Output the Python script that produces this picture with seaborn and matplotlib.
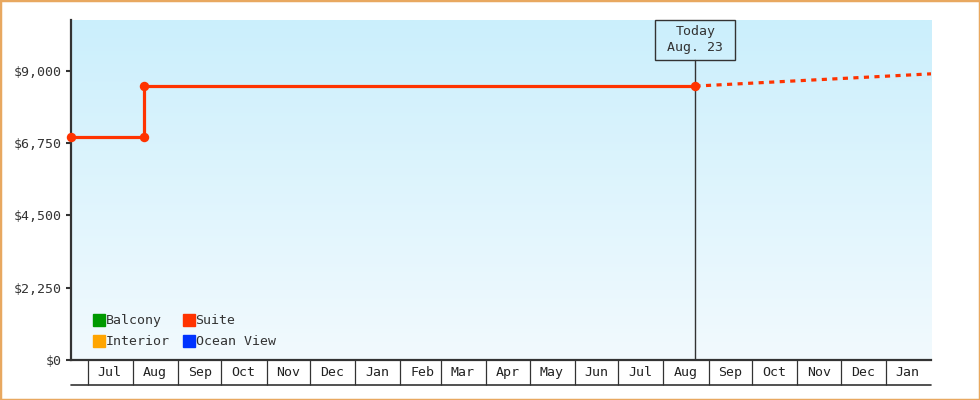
import numpy as np
import pandas as pd
import matplotlib
matplotlib.use("Agg")
import matplotlib.pyplot as plt
import matplotlib.dates as mdates
import matplotlib.ticker as mticker
import matplotlib.transforms as mtransforms
from matplotlib.patches import Rectangle
from matplotlib.lines import Line2D
from matplotlib.colors import LinearSegmentedColormap
import seaborn as sns

# ---------------- data ----------------
suite_dates = ["2012-06-19 12:00", "2012-08-09 00:00", "2012-08-09 00:00", "2013-08-23 00:00"]
suite_prices = [6950, 6950, 8520, 8520]
proj_dates = ["2013-08-23 00:00", "2014-02-01 00:00"]
proj_prices = [8520, 8900]
today_date = "2013-08-23"
today_label = "Today\nAug. 23"
series_names = ["Balcony", "Interior", "Suite", "Ocean View"]
series_colors = ["#009900", "#ffa500", "#ff3300", "#0033ff"]
y_ticks = [0, 2250, 4500, 6750, 9000]
x_start = "2012-06-19 12:00"
x_end = "2014-02-01"
y_max = 10575
month_starts = pd.date_range("2012-07-01", "2014-01-01", freq="MS")
month_mids = pd.date_range("2012-07-01", "2014-01-01", freq="MS") + pd.Timedelta(days=15)

# ---------------- style ----------------
sns.set_style("white")
plt.rcParams["font.family"] = ["DejaVu Sans Mono", "DejaVu Sans"]
TXT = "#333333"
FS = 9.5

fig = plt.figure(figsize=(9.8, 4.0), dpi=100)
pos = [71 / 980, 40 / 400, 860 / 980, 340 / 400]

# gradient background
bg = fig.add_axes(pos, zorder=-1)
cmap = LinearSegmentedColormap.from_list("bg", ["#cbeffc", "#f2fafe"])
bg.imshow(np.linspace(0, 1, 256).reshape(-1, 1), cmap=cmap, aspect="auto",
          extent=(0, 1, 0, 1), interpolation="bilinear")
bg.axis("off")

ax = fig.add_axes(pos, zorder=1)
ax.set_facecolor("none")

suite_df = pd.DataFrame({"date": pd.to_datetime(suite_dates, format="ISO8601"),
                         "price": suite_prices})
proj_df = pd.DataFrame({"date": pd.to_datetime(proj_dates, format="ISO8601"),
                        "price": proj_prices})

sns.lineplot(data=suite_df, x="date", y="price", sort=False, estimator=None,
             color=series_colors[2], lw=2.3, marker="o", markersize=6.8,
             markeredgewidth=0, ax=ax, zorder=4, clip_on=False)
sns.lineplot(data=proj_df, x="date", y="price", sort=False, estimator=None,
             color=series_colors[2], lw=2.3, linestyle=(0, (1.6, 1.7)),
             ax=ax, zorder=3)

today = pd.Timestamp(today_date)
today_num = mdates.date2num(today)
ax.axvline(today, ymin=0, ymax=(360 - 60) / 340, color=TXT, lw=1, zorder=2)

blend = mtransforms.blended_transform_factory(ax.transData, ax.transAxes)
box_tr = fig.dpi_scale_trans + mtransforms.ScaledTranslation(today_num, 1.0, blend)
ax.add_artist(Rectangle((-0.40, -0.40), 0.80, 0.40, transform=box_tr, fill=False,
                        ec=TXT, lw=1, clip_on=False, zorder=5))
ax.annotate(today_label, xy=(today_num, 1.0), xycoords=blend,
            xytext=(0, -14.4), textcoords="offset points", ha="center", va="center",
            fontsize=FS, color=TXT, linespacing=1.3, annotation_clip=False)

# axes limits
ax.set_xlim(pd.Timestamp(x_start), pd.Timestamp(x_end))
ax.set_ylim(0, y_max)

# y axis
ax.set_yticks(y_ticks)
ax.yaxis.set_major_formatter(mticker.StrMethodFormatter("${x:,.0f}"))
ax.tick_params(axis="y", direction="out", length=3.6, width=1.5, color=TXT,
               labelsize=FS, labelcolor=TXT, pad=3, left=True)

# x axis: month cells
ax.xaxis.set_major_locator(mticker.FixedLocator(mdates.date2num(month_starts)))
ax.xaxis.set_major_formatter(mticker.NullFormatter())
ax.xaxis.set_minor_locator(mticker.FixedLocator(mdates.date2num(month_mids)))
ax.xaxis.set_minor_formatter(mdates.DateFormatter("%b"))
ax.tick_params(axis="x", which="major", direction="out", length=18, width=0.9,
               color=TXT, bottom=True)
ax.tick_params(axis="x", which="minor", length=0, labelsize=FS, labelcolor="#222222",
               pad=4, bottom=True)
ax.plot([0, 1], [-25 / 340, -25 / 340], transform=ax.transAxes, clip_on=False,
        color=TXT, lw=1.2)

ax.set_xlabel("")
ax.set_ylabel("")
for s in ["top", "right"]:
    ax.spines[s].set_visible(False)
for s in ["left", "bottom"]:
    ax.spines[s].set_color(TXT)
    ax.spines[s].set_linewidth(1.6)

# legend
handles = [Line2D([], [], marker="s", linestyle="", markersize=8, markerfacecolor=c,
                  markeredgecolor=c) for c in series_colors]
leg = ax.legend(handles, series_names, ncol=2, loc="lower left",
                bbox_to_anchor=(0.0167, 0.007), frameon=False, fontsize=FS,
                handlelength=0.7, handletextpad=0.15, columnspacing=1.1,
                labelspacing=0.6, borderaxespad=0.3)
for t in leg.get_texts():
    t.set_color(TXT)

# outer border
fig.add_artist(Rectangle((0, 0), 1, 1, transform=fig.transFigure, fill=False,
                         ec="#e8a860", lw=2.5))

fig.savefig("out.png", dpi=100)
